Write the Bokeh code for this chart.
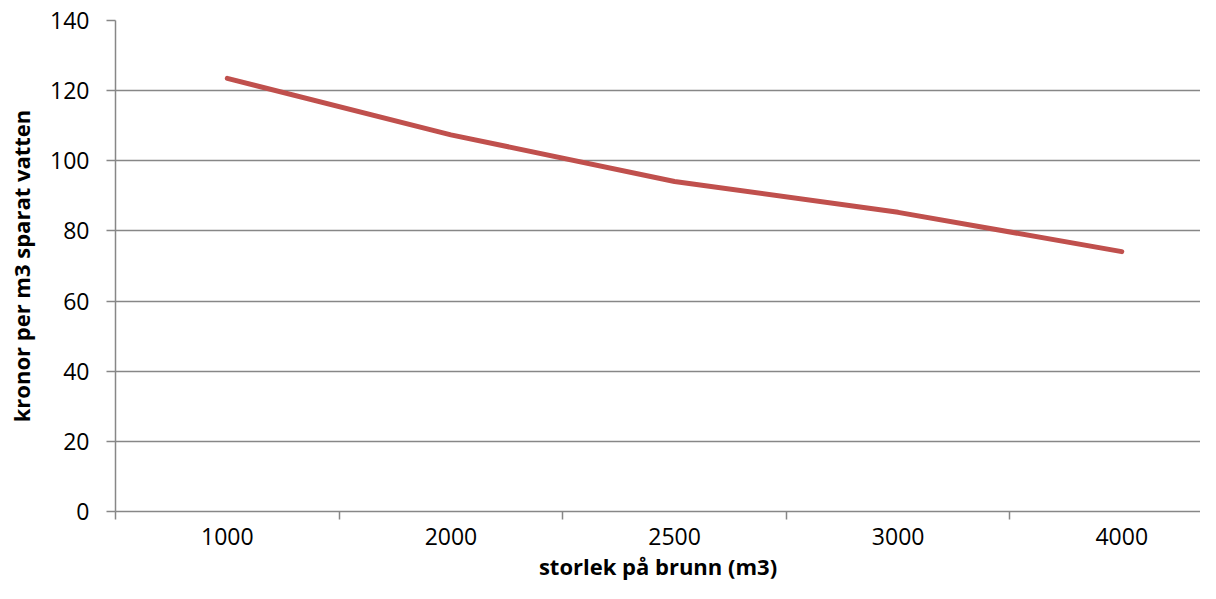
from bokeh.plotting import figure
from bokeh.models import Range1d, FixedTicker, ColumnDataSource
from bokeh.embed import file_html
from bokeh.resources import INLINE

categories = ["1000", "2000", "2500", "3000", "4000"]
values = [123.5, 107.4, 94.1, 85.3, 74.1]
y_ticks = [0, 20, 40, 60, 80, 100, 120, 140]

xs = list(range(len(categories)))
src = ColumnDataSource(data=dict(x=xs, y=values))

p = figure(width=1200, height=583, output_backend="svg", toolbar_location=None,
           x_range=Range1d(-0.5, 4.352), y_range=Range1d(0, 140),
           min_border_left=115, min_border_right=0, min_border_top=20, min_border_bottom=72)
p.outline_line_color = None
p.background_fill_color = "white"
p.border_fill_color = "white"

p.line("x", "y", source=src, line_color="#C0504D", line_width=5, line_cap="round", line_join="round")

GRID = "#878787"
FONT = "Open Sans"

xa = p.xaxis[0]
xa.ticker = FixedTicker(ticks=xs, minor_ticks=[i - 0.5 for i in xs])
xa.major_label_overrides = {i: c for i, c in zip(xs, categories)}
xa.major_tick_out = 0
xa.major_tick_in = 0
xa.minor_tick_out = 8
xa.minor_tick_in = 0
xa.minor_tick_line_color = GRID
xa.minor_tick_line_width = 1.5
xa.axis_line_color = GRID
xa.axis_line_width = 1.5
xa.major_label_text_font = FONT
xa.major_label_text_font_size = "23px"
xa.major_label_text_color = "black"
xa.major_label_standoff = 8
xa.axis_label = "storlek på brunn (m3)"
xa.axis_label_text_font = FONT
xa.axis_label_text_font_style = "bold"
xa.axis_label_text_font_size = "22px"
xa.axis_label_text_color = "black"
xa.axis_label_standoff = 3

ya = p.yaxis[0]
ya.ticker = FixedTicker(ticks=y_ticks, minor_ticks=[])
ya.major_tick_out = 9
ya.major_tick_in = 0
ya.major_tick_line_color = GRID
ya.major_tick_line_width = 1.5
ya.axis_line_color = GRID
ya.axis_line_width = 1.5
ya.major_label_text_font = FONT
ya.major_label_text_font_size = "23px"
ya.major_label_text_color = "black"
ya.major_label_standoff = 17
ya.axis_label = "kronor per m3 sparat vatten"
ya.axis_label_text_font = FONT
ya.axis_label_text_font_style = "bold"
ya.axis_label_text_font_size = "22px"
ya.axis_label_text_color = "black"
ya.axis_label_standoff = 11

p.xgrid.grid_line_color = None
p.ygrid.ticker = FixedTicker(ticks=y_ticks)
p.ygrid.grid_line_color = GRID
p.ygrid.grid_line_width = 1.5

open("out.html", "w").write(file_html(p, INLINE))
